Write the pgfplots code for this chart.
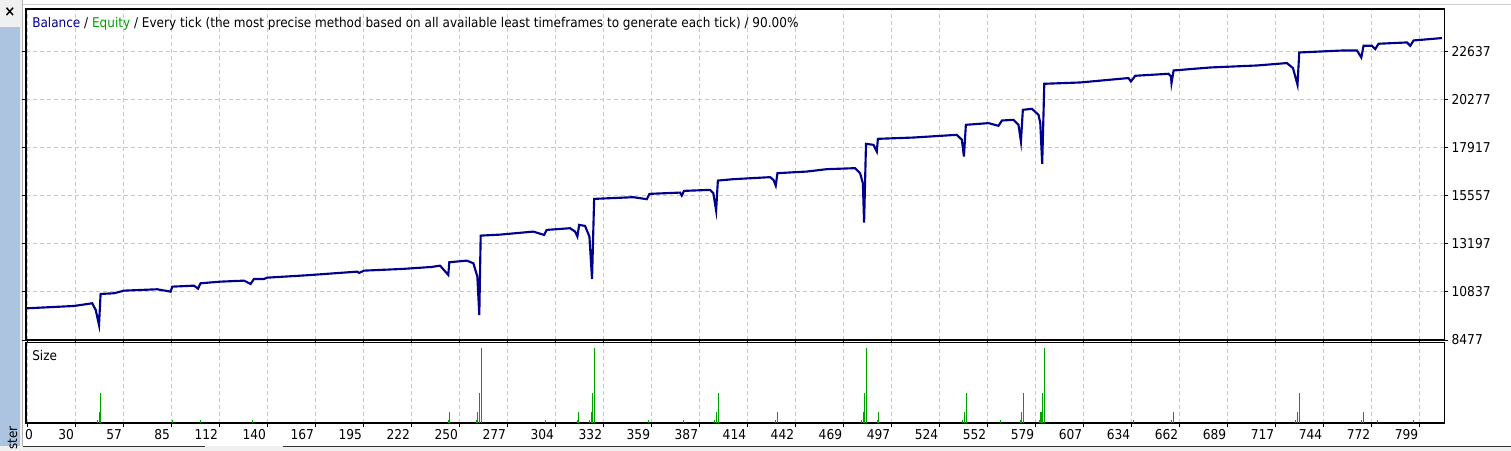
\documentclass[border=0pt]{standalone}
\usepackage{pgfplots}
\pgfplotsset{compat=1.18}
\usepackage{fontspec}
\setmainfont[FakeStretch=0.9]{DejaVu Sans}
\definecolor{bal}{RGB}{0,0,140}
\definecolor{eqg}{RGB}{0,160,0}
\definecolor{gridc}{RGB}{200,200,200}
\definecolor{panel}{RGB}{172,196,224}
\definecolor{wgray}{RGB}{240,240,240}
\begin{document}
\begin{tikzpicture}
% window background
\fill[white] (0,0) rectangle (1133.25bp,-338.25bp);
\fill[wgray] (0,0) rectangle (16.5bp,-338.25bp);
\fill[panel] (0,-20bp) rectangle (15bp,-338.25bp);
\draw[gray!60, line width=0.75bp] (16.9bp,0) -- (16.9bp,-338.25bp);
\draw[gray!40, line width=0.75bp] (16.9bp,-3bp) -- (1133.25bp,-3bp);
\node[font=\bfseries\fontsize{11bp}{12bp}\selectfont, inner sep=0] at (7.5bp,-9bp) {×};
\fill[wgray] (0,-334.5bp) rectangle (1133.25bp,-338.25bp);
\draw[black!80, line width=0.75bp] (17bp,-334.8bp) -- (153.75bp,-334.8bp);
\draw[black!80, line width=0.75bp] (212bp,-334.8bp) -- (1133.25bp,-334.8bp);

\begin{axis}[
  at={(19.5bp,-6.75bp)}, anchor=north west,
  scale only axis, width=1063.5bp, height=248.25bp,
  xmin=-0.7, xmax=813, ymin=8477, ymax=24716,
  axis line style={black, line width=0.8bp},
  xtick={0,27.55,...,800}, xticklabels=\empty,
  ytick={8477,10837,13197,15557,17917,20277,22637},
  yticklabels={8477,10837,13197,15557,17917,20277,22637},
  yticklabel pos=right,
  tick align=outside,
  xtick style={draw=none},
  ytick style={black, line width=0.75bp},
  major tick length=3bp,
  grid=major,
  major grid style={gridc, dash pattern=on 3bp off 2.25bp, line width=0.75bp},
  yticklabel style={font=\fontsize{10.2bp}{12bp}\selectfont, anchor=west, inner sep=0pt, xshift=2.5bp},
  /pgf/number format/assume math mode=true,
]
\addplot[bal, line width=1.6bp, mark=none] coordinates {
(0,10033) (26.8,10146) (33.5,10230) (37.3,10279) (39.3,9950) (41.2,9214) (42.1,10736) (49.8,10770) (55.5,10898) (74.6,10966) (82.3,10849) (83.2,11094) (95.7,11143) (98.0,10996) (99.5,11261) (111.0,11340) (124.4,11389) (128.2,11227) (130.1,11472) (135.9,11472) (137.8,11536) (160.7,11654) (189.4,11831) (190.4,11767) (193.3,11880) (215.2,11963) (232.1,12061) (236.9,12125) (241.6,11668) (242.2,12292) (252.2,12371) (256.0,12243) (258.3,11585) (259.4,9705) (260.2,13598) (271.3,13647) (290.4,13795) (296.6,13633) (298.1,13878) (311.5,13961) (314.4,13795) (315.7,13549) (316.7,14124) (320.1,14075) (322.6,13549) (324.1,11472) (325.3,15400) (347.8,15484) (355.5,15386) (357.0,15646) (374.6,15709) (375.6,15562) (376.9,15793) (391.8,15842) (393.7,15680) (395.3,14826) (396.3,16299) (405.2,16367) (426.3,16466) (428.2,16333) (429.5,16053) (430.5,16662) (447.3,16741) (458.8,16858) (475.0,16907) (477.9,16662) (479.5,16171) (480.2,14237) (481.3,18101) (485.6,18052) (487.5,17722) (488.1,18346) (508.5,18410) (533.4,18543) (536.3,18297) (537.5,17477) (538.6,19034) (551.6,19117) (557.3,18985) (559.3,19245) (565.9,19279) (568.8,19034) (570.2,18214) (571.3,19770) (576.5,19819) (580.3,19524) (581.3,19117) (582.4,17119) (583.6,21047) (604.2,21111) (627.2,21292) (631.9,21327) (633.3,21160) (635.8,21440) (654.9,21538) (656.3,21405) (656.6,21081) (657.8,21700) (678.8,21847) (705.6,21945) (722.8,22063) (726.3,21818) (728.9,20997) (729.9,22583) (755.3,22682) (763.0,22682) (765.5,22338) (766.8,22912) (771.6,22912) (773.5,22750) (775.4,23011) (791.7,23075) (793.6,22912) (795.5,23173) (811.8,23290)
};
\end{axis}

\node[anchor=base west, inner sep=0, font=\fontsize{10.05bp}{12bp}\selectfont] at (24bp,-20.5bp)
  {\textcolor{bal}{Balance} / \textcolor{eqg}{Equity} / Every tick (the most precise method based on all available least timeframes to generate each tick) / 90.00\%};

\begin{axis}[
  at={(19.5bp,-256.875bp)}, anchor=north west,
  scale only axis, width=1063.5bp, height=60.375bp,
  xmin=-0.7, xmax=813, ymin=0, ymax=2.43,
  axis line style={black, line width=0.8bp},
  xtick={0,27.55,...,800},
  xticklabels={\makebox[0pt][l]{0},30,57,85,112,140,167,195,222,250,277,304,332,359,387,414,442,469,497,524,552,579,607,634,662,689,717,744,772,799},
  ytick=\empty,
  tick align=outside,
  xtick style={black, line width=0.75bp},
  major tick length=3bp,
  xmajorgrids,
  major grid style={gridc, dash pattern=on 3bp off 2.25bp, line width=0.75bp},
  xticklabel style={font=\fontsize{10.2bp}{12bp}\selectfont, anchor=east, inner sep=0pt, yshift=-5.8bp, xshift=-0.8bp},
  /pgf/number format/assume math mode=true,
]
\addplot[ycomb, eqg, line width=0.8bp, mark=none] coordinates {
(40.2,0.1)(41.3,0.32)(42.3,0.9)
(83.2,0.1)(99.3,0.1)(129.1,0.1)
(241.6,0.1)(242.2,0.32)
(257.9,0.1)(258.5,0.32)(259.4,0.9)(260.4,2.25)
(297.3,0.1)
(315.9,0.1)(316.3,0.32)
(322.6,0.1)(323.6,0.32)(324.3,0.9)(325.4,2.25)
(356.4,0.1)(376.5,0.1)
(394.3,0.1)(395.5,0.32)(396.6,0.9)
(429.5,0.1)(430.5,0.32)
(478.9,0.1)(479.7,0.32)(480.4,0.9)(481.6,2.25)
(487.9,0.1)(488.4,0.32)
(536.7,0.1)(537.6,0.32)(539.0,0.9)
(558.5,0.1)
(570.2,0.1)(570.7,0.32)(571.7,0.9)
(580.9,0.1)(581.7,0.32)(582.6,0.9)(583.7,2.25)
(634.8,0.1)
(656.8,0.1)(657.8,0.32)
(728.0,0.1)(728.9,0.32)(730.1,0.9)
(765.7,0.1)(766.8,0.32)
(774.8,0.1)(795.2,0.1)
};
\end{axis}
\node[anchor=west, inner sep=0, font=\fontsize{10.05bp}{12bp}\selectfont] at (24bp,-266.25bp) {Size};
\node[rotate=90, anchor=base west, inner sep=0, font=\fontsize{10bp}{12bp}\selectfont] at (12.75bp,-337.6bp) {ster};
\pgfresetboundingbox
\useasboundingbox (0,0) rectangle (1133.25bp,-338.25bp);
\end{tikzpicture}
\end{document}
